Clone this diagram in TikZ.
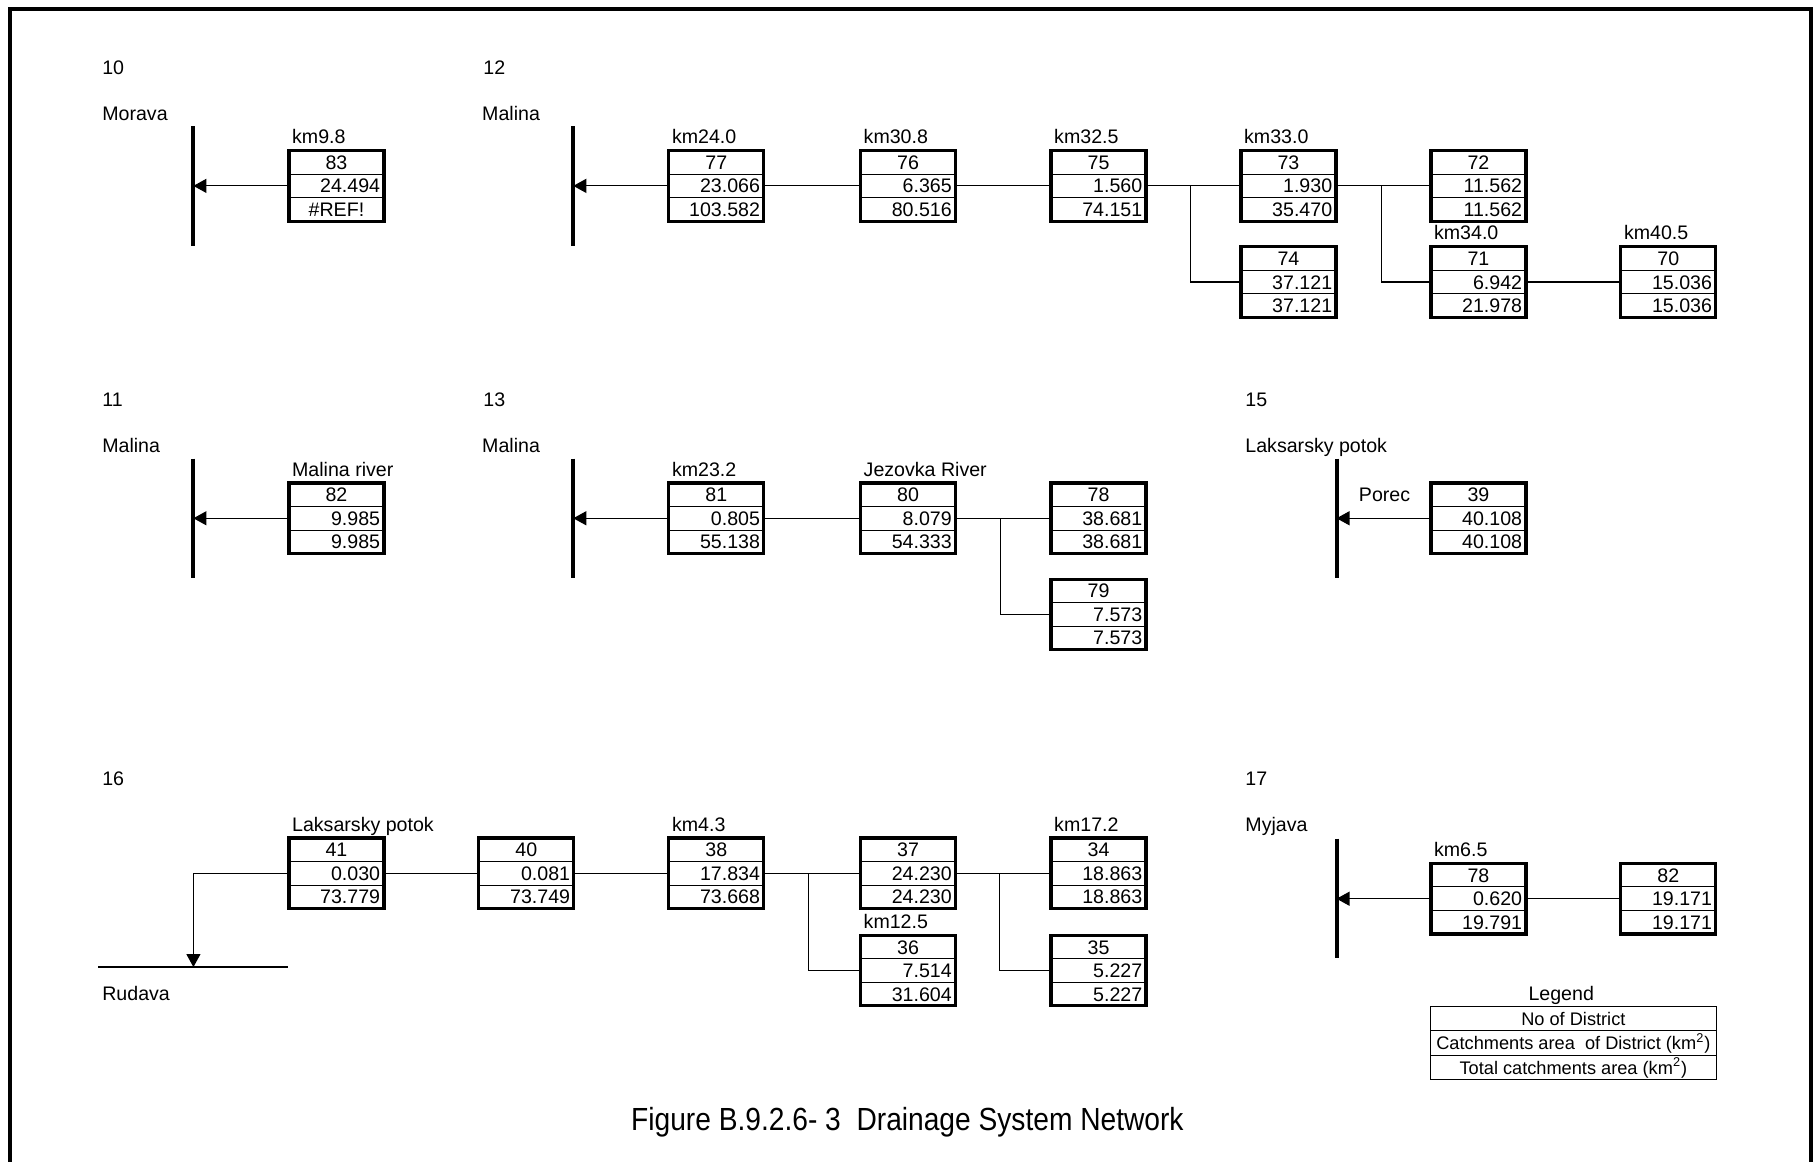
\documentclass[tikz,border=0pt]{standalone}
\usepackage{fontspec}
\setmainfont{Liberation Sans}
\newfontfamily\capfont[FakeStretch=0.88]{Liberation Sans}
\usetikzlibrary{arrows.meta,calc}

% frame of a district box with its number and district area: name, position, number, district area
\newcommand{\dboxframe}[4]{%
  \node[dbx] (#1) at (#2) {};
  \draw[divider] ($(#1.north west)!1/3!(#1.south west)$) -- ($(#1.north east)!1/3!(#1.south east)$);
  \draw[divider] ($(#1.north west)!2/3!(#1.south west)$) -- ($(#1.north east)!2/3!(#1.south east)$);
  \node[num] (#1-n) at ($(#1.north)!1/6!(#1.south)$) {#3};
  \node[num,anchor=east] (#1-a) at ($(#1.east)+(-1.7pt,0pt)$) {#4};
}
% district box: name, position, number, district area, total area
\newcommand{\dbox}[5]{%
  \dboxframe{#1}{#2}{#3}{#4}
  \node[num,anchor=east] (#1-t) at ($(#1.north east)!5/6!(#1.south east)+(-1.7pt,0pt)$) {#5};
}
\newcommand{\blabel}[2]{%
  \node[lbl] (#1-l) at ($(#1.north west)+(1.4pt,3.4pt)$) {#2};
}

\begin{document}
\begin{tikzpicture}[x=0.57908pt,y=-0.57908pt,
  txt/.style={font=\fontsize{9.8}{11}\selectfont, inner sep=0pt, text height=7pt, text depth=0pt},
  num/.style={txt},
  sec/.style={txt, anchor=west},
  lbl/.style={txt, anchor=base west, text height=, text depth=},
  legtxt/.style={txt, font=\fontsize{9.1}{11}\selectfont},
  dbx/.style={draw, line width=1.6pt, minimum width=47.5pt, minimum height=35.3pt, inner sep=0pt, outer sep=0pt},
  divider/.style={line width=0.5pt},
  conn/.style={line width=0.6pt},
  arr/.style={line width=0.6pt, -{Triangle[length=6.5pt,width=7pt]}},
  river/.style={line width=2pt},
  frame/.style={line width=2.2pt},
  legbox/.style={draw, line width=0.8pt, minimum width=143pt, minimum height=36.5pt, inner sep=0pt, outer sep=0pt}
]
\useasboundingbox (0,0) rectangle (1568,1003);
\draw[frame] (8.6,1003) -- (8.6,7.8) -- (1563.7,7.8) -- (1563.7,1003);

% ---------- section headings ----------
\node[sec] (s10) at (88,58) {10};
\node[sec] (s10r) at (88,98) {Morava};
\node[sec] (s12) at (417,58) {12};
\node[sec] (s12r) at (416,98) {Malina};
\node[sec] (s11) at (88,345) {11};
\node[sec] (s11r) at (88,385) {Malina};
\node[sec] (s13) at (417,345) {13};
\node[sec] (s13r) at (416,385) {Malina};
\node[sec] (s15) at (1075,345) {15};
\node[sec] (s15r) at (1075,385) {Laksarsky potok};
\node[sec] (s16) at (88,672) {16};
\node[sec] (s17) at (1075,672) {17};
\node[sec] (s17r) at (1075,712) {Myjava};
\node[sec] (rudt) at (88,858) {Rudava};
\node[sec] (porec) at (1173,427) {Porec};

% ---------- rivers ----------
\coordinate (r10a) at (167,109); \coordinate (r10b) at (167,212);
\coordinate (r12a) at (495,109); \coordinate (r12b) at (495,212);
\coordinate (r11a) at (167,396); \coordinate (r11b) at (167,499);
\coordinate (r13a) at (495,396); \coordinate (r13b) at (495,499);
\coordinate (r15a) at (1154,396); \coordinate (r15b) at (1154,499);
\coordinate (r17a) at (1154,724); \coordinate (r17b) at (1154,827);
\coordinate (rudL) at (85,835); \coordinate (rudR) at (249,835);
\coordinate (rud) at (167,835);
\draw[river] (r10a) -- (r10b);
\draw[river] (r12a) -- (r12b);
\draw[river] (r11a) -- (r11b);
\draw[river] (r13a) -- (r13b);
\draw[river] (r15a) -- (r15b);
\draw[river] (r17a) -- (r17b);
\draw[conn] (rudL) -- (rudR);

% ---------- section 10 ----------
\dboxframe{b83}{290.5,160.5}{83}{24.494}
\node[num] (b83-t) at ($(b83.north)!5/6!(b83.south)$) {\#REF!};
\blabel{b83}{km9.8}
\draw[arr] (b83.west) -- (b83.west -| r10a);

% ---------- section 12 ----------
\dbox{b77}{618.5,160.5}{77}{23.066}{103.582}
\blabel{b77}{km24.0}
\dbox{b76}{784,160.5}{76}{6.365}{80.516}
\blabel{b76}{km30.8}
\dbox{b75}{948.5,160.5}{75}{1.560}{74.151}
\blabel{b75}{km32.5}
\dbox{b73}{1112.5,160.5}{73}{1.930}{35.470}
\blabel{b73}{km33.0}
\dbox{b72}{1276.5,160.5}{72}{11.562}{11.562}
\dbox{b74}{1112.5,243.5}{74}{37.121}{37.121}
\dbox{b71}{1276.5,243.5}{71}{6.942}{21.978}
\blabel{b71}{km34.0}
\dbox{b70}{1440.5,243.5}{70}{15.036}{15.036}
\blabel{b70}{km40.5}
\coordinate (j1) at (1028,160.5);
\coordinate (j2) at (1193,160.5);
\draw[arr] (b77.west) -- (b77.west -| r12a);
\draw[conn] (b76.west) -- (b77.east);
\draw[conn] (b75.west) -- (b76.east);
\draw[conn] (b73.west) -- (b75.east);
\draw[conn] (j1) |- (b74.west);
\draw[conn] (b72.west) -- (b73.east);
\draw[conn] (j2) |- (b71.west);
\draw[conn] (b70.west) -- (b71.east);

% ---------- section 11 ----------
\dbox{b82}{290.5,447.5}{82}{9.985}{9.985}
\blabel{b82}{Malina river}
\draw[arr] (b82.west) -- (b82.west -| r11a);

% ---------- section 13 ----------
\dbox{b81}{618.5,447.5}{81}{0.805}{55.138}
\blabel{b81}{km23.2}
\dbox{b80}{784,447.5}{80}{8.079}{54.333}
\blabel{b80}{Jezovka River}
\dbox{b78}{948.5,447.5}{78}{38.681}{38.681}
\dbox{b79}{948.5,530.5}{79}{7.573}{7.573}
\coordinate (j3) at (864,447.5);
\draw[arr] (b81.west) -- (b81.west -| r13a);
\draw[conn] (b80.west) -- (b81.east);
\draw[conn] (b78.west) -- (b80.east);
\draw[conn] (j3) |- (b79.west);

% ---------- section 15 ----------
\dbox{b39}{1276.5,447.5}{39}{40.108}{40.108}
\draw[arr] (b39.west) -- (b39.west -| r15a);

% ---------- section 16 ----------
\dbox{b41}{290.5,754}{41}{0.030}{73.779}
\blabel{b41}{Laksarsky potok}
\dbox{b40}{454.5,754}{40}{0.081}{73.749}
\dbox{b38}{618.5,754}{38}{17.834}{73.668}
\blabel{b38}{km4.3}
\dbox{b37}{784,754}{37}{24.230}{24.230}
\dbox{b36}{784,838}{36}{7.514}{31.604}
\blabel{b36}{km12.5}
\dbox{b34}{948.5,754}{34}{18.863}{18.863}
\blabel{b34}{km17.2}
\dbox{b35}{948.5,838}{35}{5.227}{5.227}
\coordinate (j4) at (698,754);
\coordinate (j5) at (863,754);
\draw[arr] (b41.west) -| (rud);
\draw[conn] (b40.west) -- (b41.east);
\draw[conn] (b38.west) -- (b40.east);
\draw[conn] (b37.west) -- (b38.east);
\draw[conn] (j4) |- (b36.west);
\draw[conn] (b34.west) -- (b37.east);
\draw[conn] (j5) |- (b35.west);

% ---------- section 17 ----------
\dbox{b78m}{1276.5,776}{78}{0.620}{19.791}
\blabel{b78m}{km6.5}
\dbox{b82m}{1440.5,776}{82}{19.171}{19.171}
\draw[arr] (b78m.west) -- (b78m.west -| r17a);
\draw[conn] (b82m.west) -- (b78m.east);

% ---------- legend ----------
\node[txt] (legt) at (1348,858) {Legend};
\node[legbox] (leg) at (1358.5,900.5) {};
\draw[divider] ($(leg.north west)!1/3!(leg.south west)$) -- ($(leg.north east)!1/3!(leg.south east)$);
\draw[divider] ($(leg.north west)!2/3!(leg.south west)$) -- ($(leg.north east)!2/3!(leg.south east)$);
\node[legtxt] (leg1) at ($(leg.north)!1/6!(leg.south)$) {No of District};
\node[legtxt] (leg2) at (leg.center) {Catchments area\ \ of District (km\textsuperscript{2})};
\node[legtxt] (leg3) at ($(leg.north)!5/6!(leg.south)$) {Total catchments area (km\textsuperscript{2})};

% ---------- caption ----------
\node[inner sep=0pt, font=\capfont\fontsize{16}{18}\selectfont] (cap) at (783.5,969) {Figure B.9.2.6-\ 3\ \ Drainage System Network};
\end{tikzpicture}
\end{document}
